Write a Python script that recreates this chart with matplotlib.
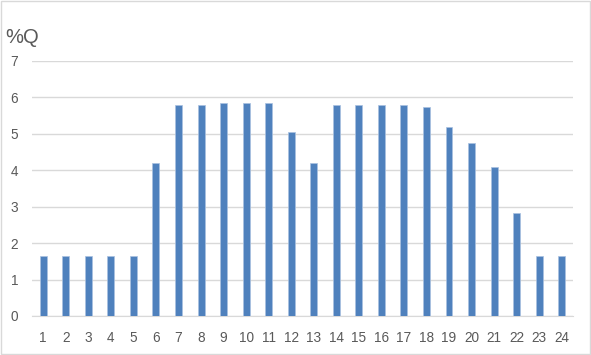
import matplotlib.pyplot as plt
from matplotlib.patches import Rectangle

hours = [str(h) for h in range(1, 25)]
share = [1.65, 1.65, 1.65, 1.65, 1.65, 4.19, 5.80, 5.80, 5.84, 5.84,
         5.84, 5.05, 4.19, 5.80, 5.80, 5.80, 5.80, 5.75, 5.19, 4.75,
         4.09, 2.83, 1.65, 1.65]
yticks = [0, 1, 2, 3, 4, 5, 6, 7]

BAR_COLOR = "#4F81BD"
TEXT_COLOR = "#595959"
GRID_COLOR = "#D9D9D9"

plt.rcParams["font.family"] = ["Liberation Sans", "DejaVu Sans"]

fig = plt.figure(figsize=(5.91, 3.55), dpi=100)
ax = fig.add_axes([0.0541, 0.1099, 0.9154, 0.7183])

x = list(range(len(hours)))
ax.bar(x, share, width=0.31, color=BAR_COLOR, edgecolor="#A9C1E0",
       linewidth=0.5, zorder=3)

ax.set_xlim(-0.5, len(hours) - 0.5)
ax.set_ylim(0, 7)
ax.set_xticks(x)
ax.set_xticklabels(hours)
ax.set_yticks(yticks)
ax.grid(axis="y", color=GRID_COLOR, linewidth=1, zorder=0)
ax.tick_params(axis="both", length=0, labelsize=9.8, colors=TEXT_COLOR)
ax.tick_params(axis="x", pad=10.5)
ax.tick_params(axis="y", pad=10)
for side in ["top", "right", "left"]:
    ax.spines[side].set_visible(False)
ax.spines["bottom"].set_color(GRID_COLOR)

fig.text(0.009, 0.895, "%Q", fontsize=14.5, color=TEXT_COLOR, va="center")

fig.patches.append(Rectangle((0.001, 0.002), 0.997, 0.995,
                             transform=fig.transFigure, fill=False,
                             edgecolor=GRID_COLOR, linewidth=1))

fig.savefig("out.png", dpi=100)
